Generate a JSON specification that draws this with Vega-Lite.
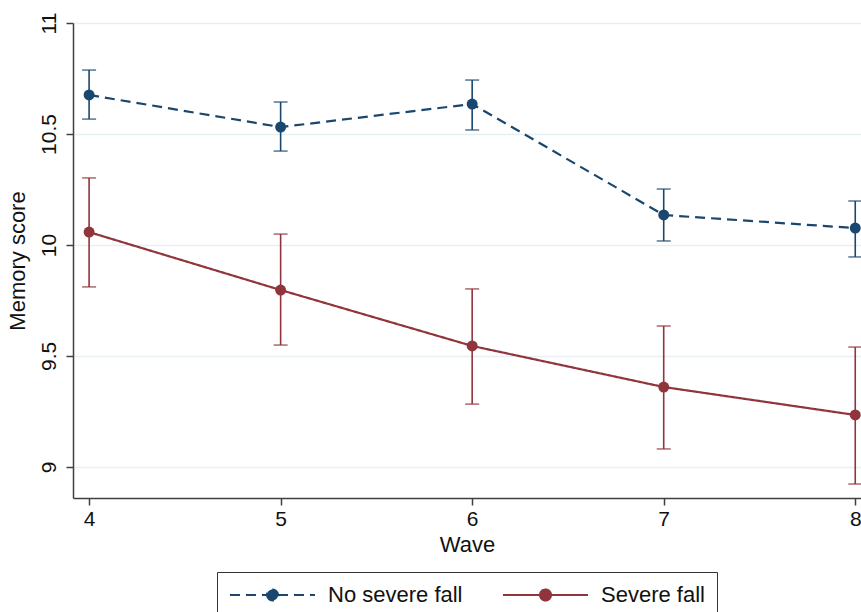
{
  "$schema": "https://vega.github.io/schema/vega-lite/v6.json",
  "width": 788,
  "height": 475,
  "autosize": "none",
  "padding": {"left": 73, "top": 23, "right": 0, "bottom": 114},
  "background": "white",
  "config": {
    "view": {"stroke": null},
    "font": "Liberation Sans",
    "axisX": {
      "domainColor": "#404040", "domainWidth": 1.5, "tickColor": "#404040", "tickWidth": 1.5, "tickSize": 7,
      "labelFontSize": 21, "labelPadding": 3, "labelColor": "#111", "titleFontSize": 22, "titleFontWeight": "normal", "titleColor": "#111", "titlePadding": 5,
      "grid": false
    },
    "axisY": {
      "domainColor": "#404040", "domainWidth": 1.5, "tickColor": "#404040", "tickWidth": 1.5, "tickSize": 7,
      "labelFontSize": 21, "labelPadding": 11, "labelColor": "#111", "labelAngle": 270, "labelAlign": "center", "labelBaseline": "alphabetic",
      "titleFontSize": 22, "titleFontWeight": "normal", "titleColor": "#111", "titlePadding": 9,
      "grid": true, "gridColor": "#e6eff1", "gridWidth": 1.5
    }
  },
  "data": {"values": [
    {"wave": 4, "group": "No severe fall", "mean": 10.676, "lo": 10.567, "hi": 10.788},
    {"wave": 5, "group": "No severe fall", "mean": 10.531, "lo": 10.423, "hi": 10.644},
    {"wave": 6, "group": "No severe fall", "mean": 10.635, "lo": 10.518, "hi": 10.743},
    {"wave": 7, "group": "No severe fall", "mean": 10.135, "lo": 10.018, "hi": 10.252},
    {"wave": 8, "group": "No severe fall", "mean": 10.076, "lo": 9.946, "hi": 10.198},
    {"wave": 4, "group": "Severe fall", "mean": 10.058, "lo": 9.811, "hi": 10.302},
    {"wave": 5, "group": "Severe fall", "mean": 9.797, "lo": 9.549, "hi": 10.049},
    {"wave": 6, "group": "Severe fall", "mean": 9.545, "lo": 9.283, "hi": 9.802},
    {"wave": 7, "group": "Severe fall", "mean": 9.36, "lo": 9.081, "hi": 9.635},
    {"wave": 8, "group": "Severe fall", "mean": 9.234, "lo": 8.923, "hi": 9.54}
  ]},
  "encoding": {
    "x": {"field": "wave", "type": "quantitative", "title": "Wave", "scale": {"domain": [3.916, 8.03], "nice": false, "zero": false},
      "axis": {"values": [4, 5, 6, 7, 8], "format": "d", "labelFlush": false}},
    "color": {
      "field": "group", "type": "nominal",
      "scale": {"domain": ["No severe fall", "Severe fall"], "range": ["#1a476f", "#90353b"]},
      "legend": {
        "orient": "none", "legendX": 144, "legendY": 549, "direction": "horizontal", "title": null,
        "symbolType": "M-1,0H7.5M2.7,0A0.55,0.55 0 1,0 3.8,0A0.55,0.55 0 1,0 2.7,0",
        "symbolSize": 400, "symbolStrokeWidth": 2, "symbolOpacity": 1,
        "labelFontSize": 22, "labelColor": "#111", "labelOffset": 77, "columnPadding": 36,
        "strokeColor": "#333", "fillColor": "white", "padding": 12,
        "encode": {"symbols": {"update": {"fill": {"scale": "color", "field": "value"}, "stroke": {"scale": "color", "field": "value"}}}}
      }
    }
  },
  "layer": [
    {
      "mark": {"type": "rule", "strokeWidth": 1.6},
      "encoding": {
        "y": {"field": "lo", "type": "quantitative", "title": "Memory score", "scale": {"domain": [8.86, 11], "nice": false, "zero": false}, "axis": {"values": [9, 9.5, 10, 10.5, 11], "format": "~g", "labelFlush": false}},
        "y2": {"field": "hi"}
      }
    },
    {
      "mark": {"type": "tick", "orient": "horizontal", "size": 14, "thickness": 1.6},
      "encoding": {"y": {"field": "lo", "type": "quantitative", "title": "Memory score", "scale": {"domain": [8.86, 11], "nice": false, "zero": false}, "axis": {"values": [9, 9.5, 10, 10.5, 11], "format": "~g", "labelFlush": false}}}
    },
    {
      "mark": {"type": "tick", "orient": "horizontal", "size": 14, "thickness": 1.6},
      "encoding": {"y": {"field": "hi", "type": "quantitative", "title": "Memory score", "scale": {"domain": [8.86, 11], "nice": false, "zero": false}, "axis": {"values": [9, 9.5, 10, 10.5, 11], "format": "~g", "labelFlush": false}}}
    },
    {
      "mark": {"type": "line", "strokeWidth": 2.2},
      "encoding": {
        "y": {"field": "mean", "type": "quantitative", "title": "Memory score", "scale": {"domain": [8.86, 11], "nice": false, "zero": false}, "axis": {"values": [9, 9.5, 10, 10.5, 11], "format": "~g", "labelFlush": false}},
        "strokeDash": {"field": "group", "type": "nominal", "scale": {"domain": ["No severe fall", "Severe fall"], "range": [[10, 6], [1, 0]]}}
      }
    },
    {
      "mark": {"type": "point", "filled": true, "size": 120, "opacity": 1},
      "encoding": {"y": {"field": "mean", "type": "quantitative", "title": "Memory score", "scale": {"domain": [8.86, 11], "nice": false, "zero": false}, "axis": {"values": [9, 9.5, 10, 10.5, 11], "format": "~g", "labelFlush": false}}}
    }
  ]
}
